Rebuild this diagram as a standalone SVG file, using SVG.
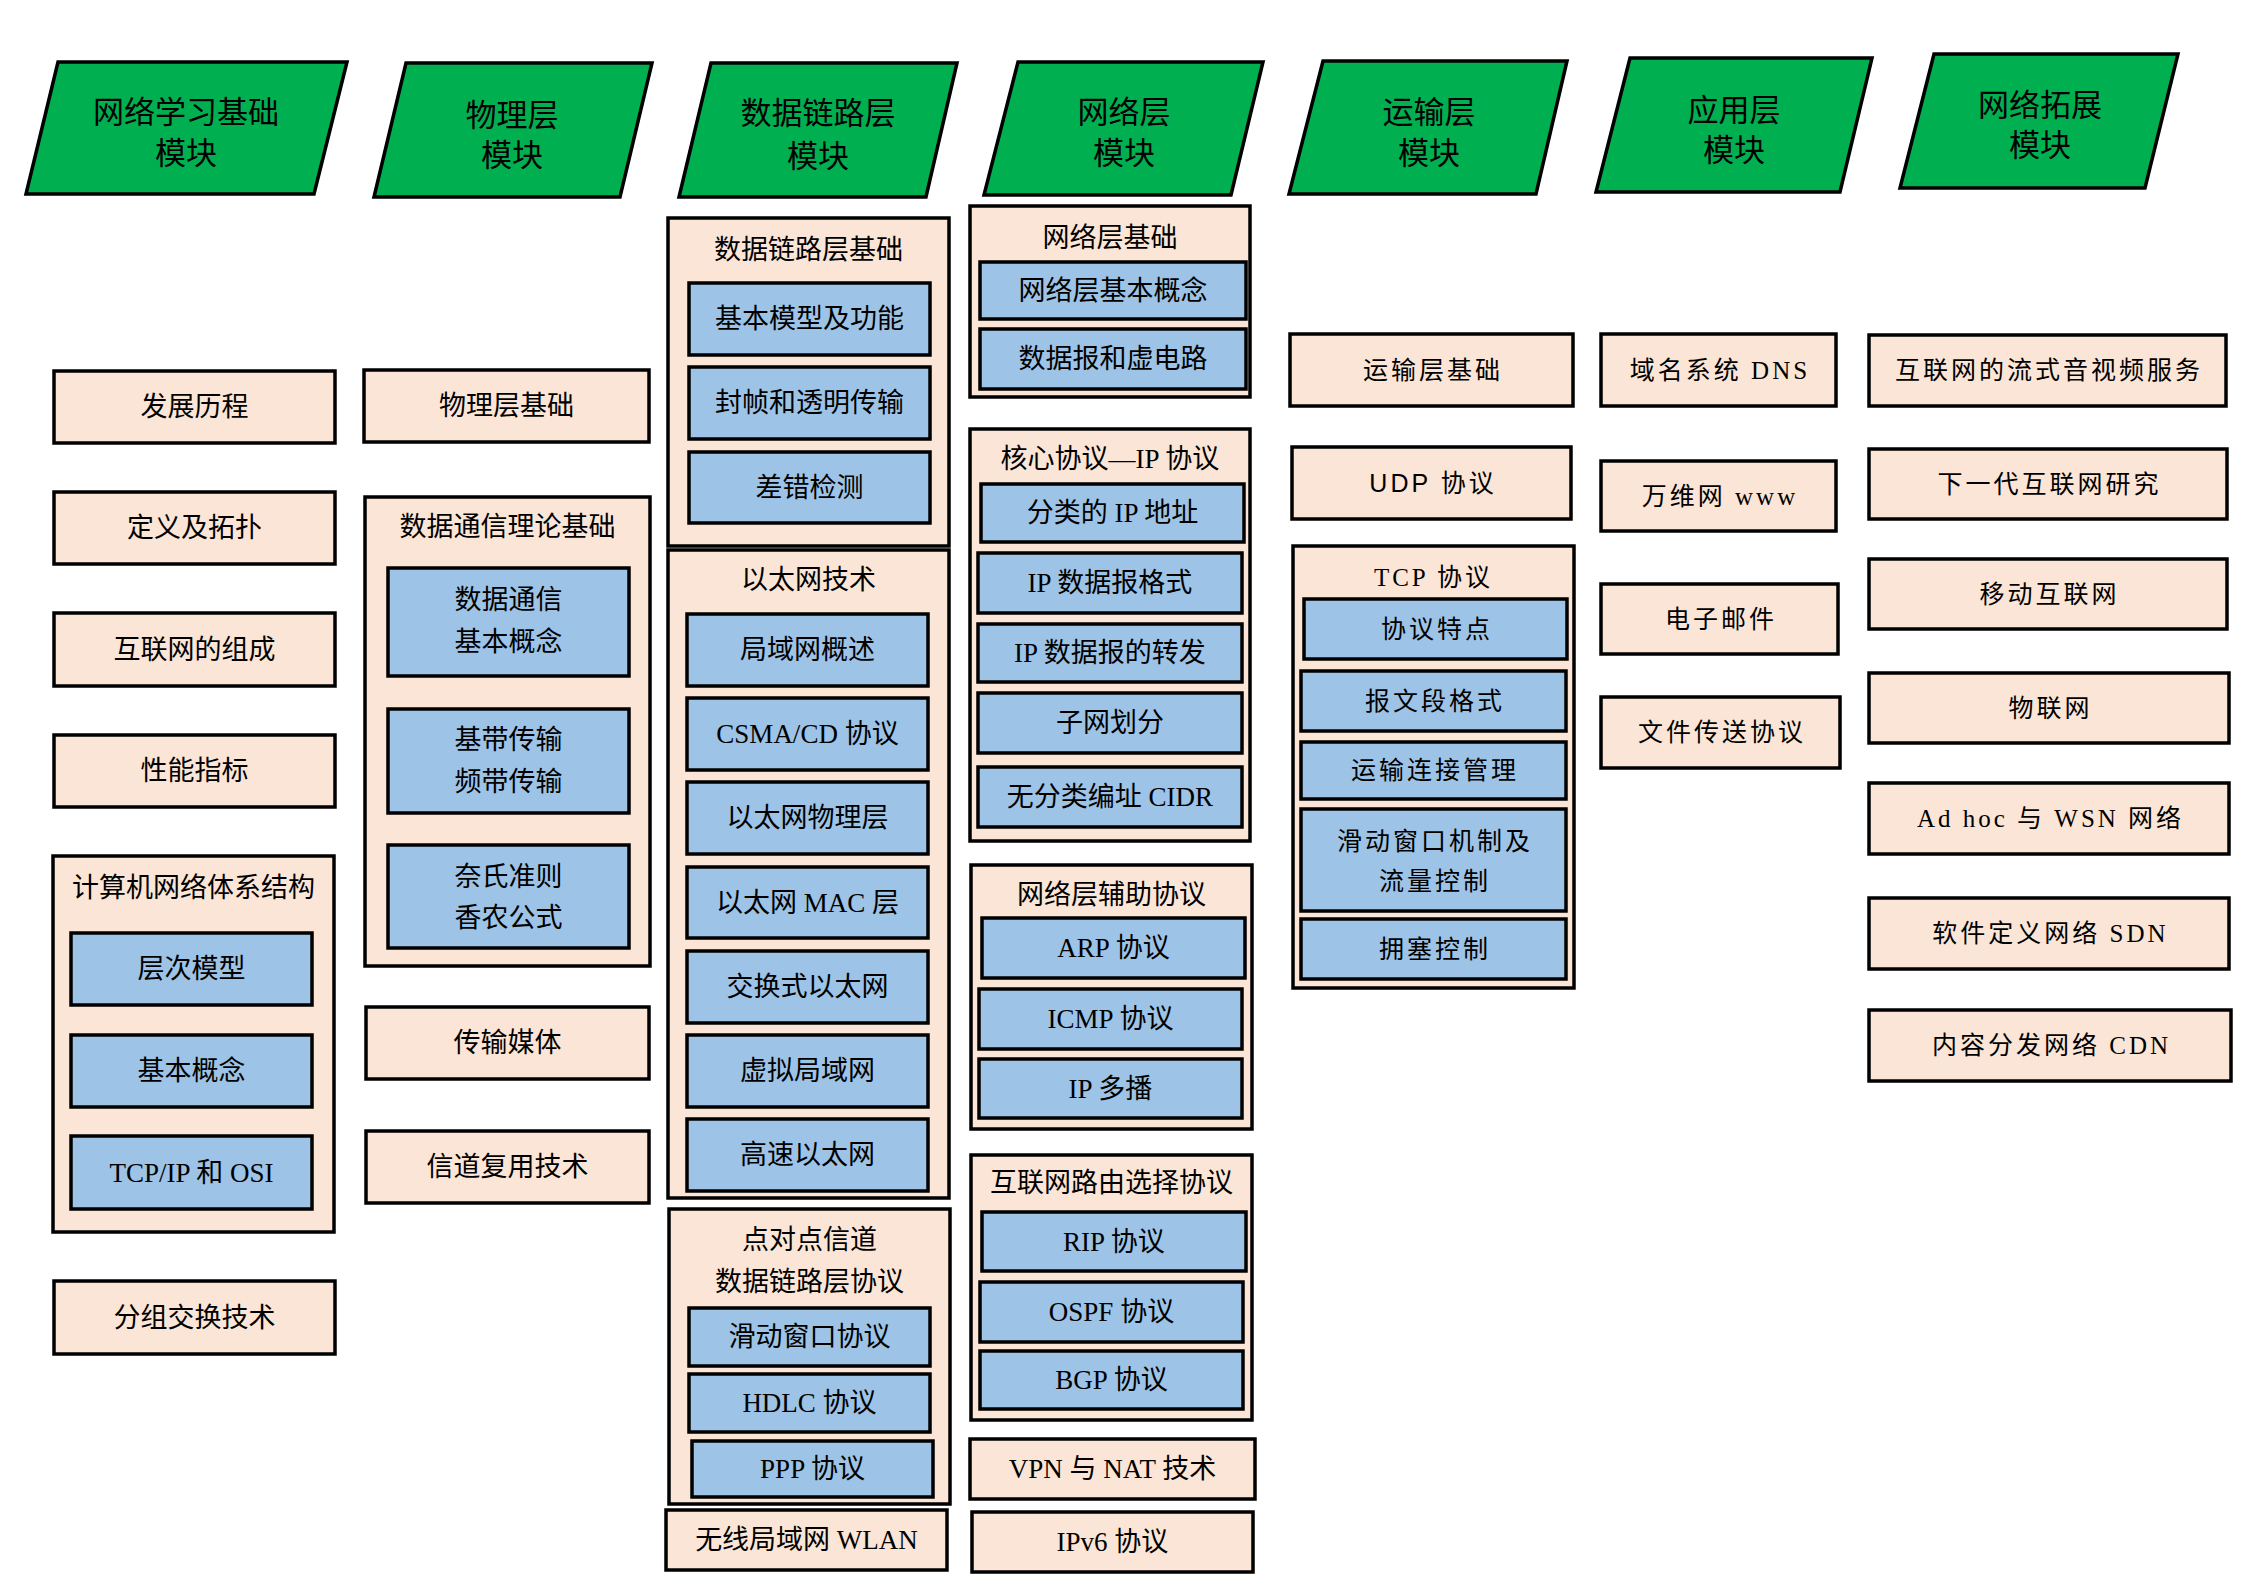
<svg xmlns="http://www.w3.org/2000/svg" width="2245" height="1587" viewBox="0 0 2245 1587">
<style>
.hd{fill:#00B050;stroke:#000;stroke-width:3.5;stroke-linejoin:miter}
.pk{fill:#FBE5D6;stroke:#000;stroke-width:3.5}
.bl{fill:#9DC3E6;stroke:#000;stroke-width:3.5}
text{font-family:"Liberation Serif","Noto Sans CJK SC",serif;font-size:27px;fill:#000;text-anchor:middle;dominant-baseline:central}
.ht{font-family:"Liberation Sans","Noto Sans CJK SC",sans-serif;font-size:31px}
.w{font-size:25px;letter-spacing:3px}
.ss{font-family:"Liberation Sans","Noto Sans CJK SC",sans-serif}
</style>
<rect width="2245" height="1587" fill="#fff"/>

<g id="headers">
<g id="h1"><polygon class="hd" points="58,62 347,62 314,194 26,194"/><text class="ht" x="186" y="112">网络学习基础</text><text class="ht" x="186" y="153">模块</text></g>
<g id="h2"><polygon class="hd" points="406,63 652,63 620,197 374,197"/><text class="ht" x="512" y="115">物理层</text><text class="ht" x="512" y="155">模块</text></g>
<g id="h3"><polygon class="hd" points="711,63 957,63 926,197 679,197"/><text class="ht" x="818" y="113">数据链路层</text><text class="ht" x="818" y="156">模块</text></g>
<g id="h4"><polygon class="hd" points="1018,62 1263,62 1231,195 984,195"/><text class="ht" x="1124" y="112">网络层</text><text class="ht" x="1124" y="153">模块</text></g>
<g id="h5"><polygon class="hd" points="1323,61 1567,61 1536,194 1289,194"/><text class="ht" x="1429" y="112">运输层</text><text class="ht" x="1429" y="153">模块</text></g>
<g id="h6"><polygon class="hd" points="1630,58 1872,58 1840,192 1596,192"/><text class="ht" x="1734" y="110">应用层</text><text class="ht" x="1734" y="150">模块</text></g>
<g id="h7"><polygon class="hd" points="1934,54 2178,54 2145,188 1900,188"/><text class="ht" x="2040" y="105">网络拓展</text><text class="ht" x="2040" y="145">模块</text></g>
</g>

<g id="col1">
<g id="n-fzlc"><rect class="pk" x="54" y="371" width="281" height="72"/><text x="194.5" y="407">发展历程</text></g>
<g id="n-dyjtp"><rect class="pk" x="54" y="492" width="281" height="72"/><text x="194.5" y="528">定义及拓扑</text></g>
<g id="n-hlwzc"><rect class="pk" x="54" y="613" width="281" height="73"/><text x="194.5" y="649.5">互联网的组成</text></g>
<g id="n-xnzb"><rect class="pk" x="54" y="735" width="281" height="72"/><text x="194.5" y="771">性能指标</text></g>
<g id="n-tixi"><rect class="pk" x="53" y="856" width="281" height="376"/><text x="193.5" y="888">计算机网络体系结构</text>
<rect class="bl" x="71" y="933" width="241" height="72"/><text x="191.5" y="969">层次模型</text>
<rect class="bl" x="71" y="1035" width="241" height="72"/><text x="191.5" y="1071">基本概念</text>
<rect class="bl" x="71" y="1136" width="241" height="73"/><text x="191.5" y="1172.5">TCP/IP 和 OSI</text></g>
<g id="n-fzjh"><rect class="pk" x="54" y="1281" width="281" height="73"/><text x="194.5" y="1317.5">分组交换技术</text></g>
</g>

<g id="col2">
<g id="n-wlcjc"><rect class="pk" x="364" y="370" width="285" height="72"/><text x="506.5" y="406">物理层基础</text></g>
<g id="n-sjtx"><rect class="pk" x="365" y="497" width="285" height="469"/><text x="507.5" y="527">数据通信理论基础</text>
<rect class="bl" x="388" y="568" width="241" height="108"/><text x="508.5" y="600">数据通信</text><text x="508.5" y="642">基本概念</text>
<rect class="bl" x="388" y="709" width="241" height="104"/><text x="508.5" y="740">基带传输</text><text x="508.5" y="782">频带传输</text>
<rect class="bl" x="388" y="845" width="241" height="103"/><text x="508.5" y="877">奈氏准则</text><text x="508.5" y="918">香农公式</text></g>
<g id="n-csmt"><rect class="pk" x="366" y="1007" width="283" height="72"/><text x="507.5" y="1043">传输媒体</text></g>
<g id="n-xdfy"><rect class="pk" x="366" y="1131" width="283" height="72"/><text x="507.5" y="1167">信道复用技术</text></g>
</g>

<g id="col3">
<g id="n-sjllcjc"><rect class="pk" x="668" y="218" width="281" height="328"/><text x="808.5" y="250">数据链路层基础</text>
<rect class="bl" x="689" y="283" width="241" height="72"/><text x="809.5" y="319">基本模型及功能</text>
<rect class="bl" x="689" y="367" width="241" height="72"/><text x="809.5" y="403">封帧和透明传输</text>
<rect class="bl" x="689" y="452" width="241" height="71"/><text x="809.5" y="487.5">差错检测</text></g>
<g id="n-ytw"><rect class="pk" x="668" y="550" width="281" height="648"/><text x="808.5" y="580">以太网技术</text>
<rect class="bl" x="687" y="614" width="241" height="72"/><text x="807.5" y="650">局域网概述</text>
<rect class="bl" x="687" y="698" width="241" height="72"/><text x="807.5" y="734">CSMA/CD 协议</text>
<rect class="bl" x="687" y="782" width="241" height="72"/><text x="807.5" y="818">以太网物理层</text>
<rect class="bl" x="687" y="867" width="241" height="71"/><text x="807.5" y="902.5">以太网 MAC 层</text>
<rect class="bl" x="687" y="951" width="241" height="72"/><text x="807.5" y="987">交换式以太网</text>
<rect class="bl" x="687" y="1035" width="241" height="72"/><text x="807.5" y="1071">虚拟局域网</text>
<rect class="bl" x="687" y="1119" width="241" height="72"/><text x="807.5" y="1155">高速以太网</text></g>
<g id="n-ddd"><rect class="pk" x="669" y="1209" width="281" height="295"/><text x="809.5" y="1240">点对点信道</text><text x="809.5" y="1282">数据链路层协议</text>
<rect class="bl" x="689" y="1308" width="241" height="58"/><text x="809.5" y="1337">滑动窗口协议</text>
<rect class="bl" x="689" y="1374" width="241" height="58"/><text x="809.5" y="1403">HDLC 协议</text>
<rect class="bl" x="692" y="1441" width="241" height="56"/><text x="812.5" y="1469">PPP 协议</text></g>
<g id="n-wlan"><rect class="pk" x="666" y="1510" width="281" height="60"/><text x="806.5" y="1540">无线局域网 WLAN</text></g>
</g>

<g id="col4">
<g id="n-wlcjc2"><rect class="pk" x="970" y="206" width="280" height="191"/><text x="1110" y="238">网络层基础</text>
<rect class="bl" x="980" y="262" width="266" height="57"/><text x="1113" y="290.5">网络层基本概念</text>
<rect class="bl" x="980" y="329" width="266" height="60"/><text x="1113" y="359">数据报和虚电路</text></g>
<g id="n-ip"><rect class="pk" x="970" y="429" width="280" height="412"/><text x="1110" y="459">核心协议—IP 协议</text>
<rect class="bl" x="981" y="484" width="263" height="58"/><text x="1112.5" y="513">分类的 IP 地址</text>
<rect class="bl" x="978" y="553" width="264" height="60"/><text x="1110" y="583">IP 数据报格式</text>
<rect class="bl" x="978" y="624" width="264" height="58"/><text x="1110" y="653">IP 数据报的转发</text>
<rect class="bl" x="978" y="693" width="264" height="60"/><text x="1110" y="723">子网划分</text>
<rect class="bl" x="978" y="767" width="264" height="60"/><text x="1110" y="797">无分类编址 CIDR</text></g>
<g id="n-fz"><rect class="pk" x="971" y="865" width="281" height="264"/><text x="1111.5" y="895">网络层辅助协议</text>
<rect class="bl" x="982" y="918" width="263" height="60"/><text x="1113.5" y="948">ARP 协议</text>
<rect class="bl" x="979" y="989" width="263" height="60"/><text x="1110.5" y="1019">ICMP 协议</text>
<rect class="bl" x="979" y="1059" width="263" height="59"/><text x="1110.5" y="1088.5">IP 多播</text></g>
<g id="n-ly"><rect class="pk" x="971" y="1155" width="281" height="265"/><text x="1111.5" y="1183">互联网路由选择协议</text>
<rect class="bl" x="982" y="1212" width="264" height="59"/><text x="1114" y="1241.5">RIP 协议</text>
<rect class="bl" x="980" y="1282" width="263" height="60"/><text x="1111.5" y="1312">OSPF 协议</text>
<rect class="bl" x="980" y="1351" width="263" height="58"/><text x="1111.5" y="1380">BGP 协议</text></g>
<g id="n-vpn"><rect class="pk" x="970" y="1439" width="285" height="60"/><text x="1112.5" y="1469">VPN 与 NAT 技术</text></g>
<g id="n-ipv6"><rect class="pk" x="972" y="1512" width="281" height="60"/><text x="1112.5" y="1542">IPv6 协议</text></g>
</g>

<g id="col5">
<g id="n-yscjc"><rect class="pk" x="1290" y="334" width="283" height="72"/><text class="w" x="1433" y="370">运输层基础</text></g>
<g id="n-udp"><rect class="pk" x="1292" y="447" width="279" height="72"/><text class="w ss" x="1433" y="483">UDP 协议</text></g>
<g id="n-tcp"><rect class="pk" x="1293" y="546" width="281" height="442"/><text class="w" x="1433.5" y="577">TCP 协议</text>
<rect class="bl" x="1304" y="599" width="263" height="60"/><text class="w" x="1437" y="629">协议特点</text>
<rect class="bl" x="1301" y="671" width="265" height="60"/><text class="w" x="1435" y="701">报文段格式</text>
<rect class="bl" x="1301" y="742" width="265" height="57"/><text class="w" x="1435" y="770">运输连接管理</text>
<rect class="bl" x="1301" y="809" width="265" height="102"/><text class="w" x="1435" y="841">滑动窗口机制及</text><text class="w" x="1435" y="881">流量控制</text>
<rect class="bl" x="1301" y="919" width="265" height="60"/><text class="w" x="1435" y="949">拥塞控制</text></g>
</g>

<g id="col6">
<g id="n-dns"><rect class="pk" x="1601" y="334" width="235" height="72"/><text class="w" x="1720" y="370">域名系统 DNS</text></g>
<g id="n-www"><rect class="pk" x="1601" y="461" width="235" height="70"/><text class="w" x="1720" y="496">万维网 www</text></g>
<g id="n-mail"><rect class="pk" x="1601" y="584" width="237" height="70"/><text class="w" x="1721" y="619">电子邮件</text></g>
<g id="n-ftp"><rect class="pk" x="1601" y="697" width="239" height="71"/><text class="w" x="1722" y="732.5">文件传送协议</text></g>
</g>

<g id="col7">
<g id="n-lsyp"><rect class="pk" x="1869" y="335" width="357" height="71"/><text class="w" x="2049" y="370.5">互联网的流式音视频服务</text></g>
<g id="n-xyd"><rect class="pk" x="1869" y="449" width="358" height="70"/><text class="w" x="2049.5" y="484">下一代互联网研究</text></g>
<g id="n-yd"><rect class="pk" x="1869" y="559" width="358" height="70"/><text class="w" x="2049.5" y="594">移动互联网</text></g>
<g id="n-wlw"><rect class="pk" x="1869" y="673" width="360" height="70"/><text class="w" x="2050.5" y="708">物联网</text></g>
<g id="n-adhoc"><rect class="pk" x="1869" y="783" width="360" height="71"/><text class="w" x="2050.5" y="818.5">Ad hoc 与 WSN 网络</text></g>
<g id="n-sdn"><rect class="pk" x="1869" y="898" width="360" height="71"/><text class="w" x="2050.5" y="933.5">软件定义网络 SDN</text></g>
<g id="n-cdn"><rect class="pk" x="1869" y="1010" width="362" height="71"/><text class="w" x="2051.5" y="1045.5">内容分发网络 CDN</text></g>
</g>

<g id="connectors"></g>
</svg>
